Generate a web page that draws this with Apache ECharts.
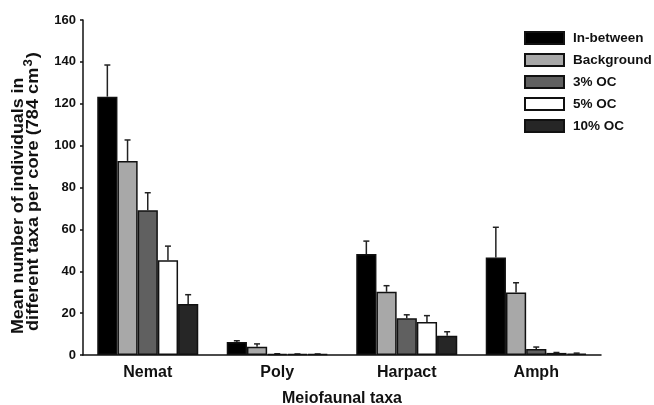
<!DOCTYPE html>
<html>
<head>
<meta charset="utf-8">
<script src="https://cdn.jsdelivr.net/npm/echarts@6/dist/echarts.min.js"></script>
<style>html,body{margin:0;padding:0;background:#fff;}#c{width:654px;height:405px;}</style>
</head>
<body>
<div id="c"></div>
<script>
var categories = ['Nemat', 'Poly', 'Harpact', 'Amph'];
var seriesNames = ['In-between', 'Background', '3% OC', '5% OC', '10% OC'];
var seriesColors = ['#000000', '#a8a8a8', '#606060', '#ffffff', '#262626'];
var inBetween = [123.4, 6.2, 48.2, 46.6];
var background = [92.7, 4.0, 30.2, 29.8];
var oc3 = [69.1, 0.5, 17.5, 2.9];
var oc5 = [45.2, 0.4, 15.8, 1.0];
var oc10 = [24.4, 0.4, 9.2, 0.7];
var errInBetween = [138.5, 6.8, 54.4, 61.0];
var errBackground = [102.7, 5.3, 33.1, 34.5];
var errOc3 = [77.5, 0.6, 19.2, 3.8];
var errOc5 = [52.0, 0.5, 18.8, 1.2];
var errOc10 = [28.8, 0.5, 11.1, 0.9];
var yTicks = [0, 20, 40, 60, 80, 100, 120, 140, 160];

var values = [inBetween, background, oc3, oc5, oc10];
var errTops = [errInBetween, errBackground, errOc3, errOc5, errOc10];
var catGap = 0.22;
var FONT = 'Liberation Sans, Arial, sans-serif';

var chart = echarts.init(document.getElementById('c'));
var series = [];
seriesNames.forEach(function (name, i) {
  series.push({
    name: name,
    type: 'bar',
    data: values[i],
    barGap: '0%',
    barCategoryGap: (catGap * 100) + '%',
    itemStyle: { color: seriesColors[i], borderColor: '#111', borderWidth: 1.5 },
    emphasis: { disabled: true },
    z: 2
  });
});
seriesNames.forEach(function (name, i) {
  series.push({
    type: 'custom',
    name: name + ' err',
    data: errTops[i].map(function (e, j) { return [j, values[i][j], e]; }),
    z: 1,
    renderItem: function (params, api) {
      var idx = api.value(0);
      var base = api.coord([idx, api.value(1)]);
      var top = api.coord([idx, api.value(2)]);
      var band = api.size([1, 0])[0];
      var bw = band * (1 - catGap) / seriesNames.length;
      var x = base[0] + (i - (seriesNames.length - 1) / 2) * bw;
      var cap = 3;
      return {
        type: 'group',
        children: [
          { type: 'line', shape: { x1: x, y1: base[1], x2: x, y2: top[1] }, style: { stroke: '#222', lineWidth: 1.5 } },
          { type: 'line', shape: { x1: x - cap, y1: top[1], x2: x + cap, y2: top[1] }, style: { stroke: '#222', lineWidth: 1.5 } }
        ]
      };
    }
  });
});

chart.setOption({
  animation: false,
  backgroundColor: '#fff',
  grid: { left: 83, right: 53, top: 20, bottom: 50, containLabel: false, outerBoundsMode: 'none' },
  legend: {
    data: seriesNames,
    orient: 'vertical',
    left: 519,
    top: 26,
    itemWidth: 39,
    itemHeight: 12,
    itemGap: 8,
    icon: 'rect',
    textStyle: { fontFamily: FONT, fontWeight: 'bold', fontSize: 13.5, color: '#111', padding: [0, 0, 0, 4] }
  },
  xAxis: {
    type: 'category',
    data: categories,
    axisLine: { lineStyle: { color: '#111', width: 1.5 } },
    axisTick: { show: false },
    axisLabel: { fontFamily: FONT, fontWeight: 'bold', fontSize: 16, color: '#111', margin: 10 },
    name: 'Meiofaunal taxa',
    nameLocation: 'middle',
    nameGap: 36,
    nameTextStyle: { fontFamily: FONT, fontWeight: 'bold', fontSize: 16, color: '#111' }
  },
  yAxis: {
    type: 'value',
    min: yTicks[0],
    max: yTicks[yTicks.length - 1],
    interval: yTicks[1] - yTicks[0],
    splitLine: { show: false },
    axisLine: { show: true, lineStyle: { color: '#111', width: 1.5 } },
    axisTick: { show: true, length: 3, lineStyle: { color: '#111', width: 1.5 } },
    axisLabel: { fontFamily: FONT, fontWeight: 'bold', fontSize: 13, color: '#111', margin: 7 }
  },
  graphic: [
    {
      type: 'text',
      x: 18, y: 334,
      rotation: Math.PI / 2,
      scaleX: 1.08,
      style: {
        text: 'Mean number of individuals in',
        fontFamily: FONT, fontWeight: 'bold', fontSize: 16.5, fill: '#111',
        textAlign: 'left', textVerticalAlign: 'middle'
      }
    },
    {
      type: 'text',
      x: 33, y: 331,
      rotation: Math.PI / 2,
      scaleX: 1.1,
      style: {
        text: '{a|different taxa per core (784 cm}{s|3}{a|)}',
        textAlign: 'left', textVerticalAlign: 'middle',
        rich: {
          a: { fontFamily: FONT, fontWeight: 'bold', fontSize: 16.5, fill: '#111', color: '#111' },
          s: { fontFamily: FONT, fontWeight: 'bold', fontSize: 12, fill: '#111', color: '#111', verticalAlign: 'top', padding: [0, 1, 9, 1] }
        }
      }
    }
  ],
  series: series
});
</script>
</body>
</html>
